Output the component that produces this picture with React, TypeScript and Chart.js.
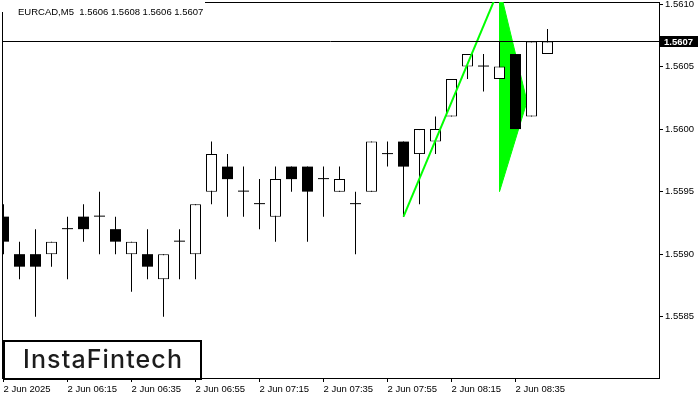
import React, { useEffect, useRef } from "react";
import { Chart, registerables } from "chart.js";

Chart.register(...registerables);

// ---- data ----
const symbolTitle = "EURCAD,M5";
const opens = [1.5593, 1.559, 1.559, 1.559, 1.5592, 1.5593, 1.5593, 1.5592, 1.559, 1.559, 1.5588, 1.5591, 1.559, 1.5595, 1.5597, 1.5595, 1.5594, 1.5593, 1.5597, 1.5597, 1.5596, 1.5595, 1.5594, 1.5595, 1.5598, 1.5599, 1.5598, 1.5599, 1.5601, 1.5605, 1.5605, 1.5604, 1.5606, 1.5601, 1.5606];
const highs = [1.5594, 1.5591, 1.5592, 1.5591, 1.5593, 1.5594, 1.5595, 1.5593, 1.5591, 1.5592, 1.559, 1.5592, 1.5594, 1.5599, 1.5598, 1.5597, 1.5596, 1.5597, 1.5597, 1.5597, 1.5597, 1.5597, 1.5595, 1.5599, 1.5599, 1.5599, 1.56, 1.5601, 1.5604, 1.5606, 1.5606, 1.5607, 1.5606, 1.5607, 1.5608];
const lows = [1.559, 1.5588, 1.5585, 1.5589, 1.5588, 1.5591, 1.559, 1.559, 1.5587, 1.5588, 1.5585, 1.5588, 1.5588, 1.5594, 1.5593, 1.5593, 1.5592, 1.5591, 1.5595, 1.5591, 1.5593, 1.5595, 1.559, 1.5595, 1.5597, 1.5593, 1.5594, 1.5598, 1.5601, 1.5604, 1.5603, 1.5604, 1.56, 1.5601, 1.5606];
const closes = [1.5591, 1.5589, 1.5589, 1.5591, 1.5592, 1.5592, 1.5593, 1.5591, 1.5591, 1.5589, 1.559, 1.5591, 1.5594, 1.5598, 1.5596, 1.5595, 1.5594, 1.5596, 1.5596, 1.5595, 1.5596, 1.5596, 1.5594, 1.5599, 1.5598, 1.5597, 1.56, 1.56, 1.5604, 1.5606, 1.5605, 1.5605, 1.56, 1.5607, 1.5607];

const xTickIndex = [0, 4, 8, 12, 16, 20, 24, 28, 32];
const xTickLabels = ["2 Jun 2025", "2 Jun 06:15", "2 Jun 06:35", "2 Jun 06:55", "2 Jun 07:15", "2 Jun 07:35", "2 Jun 07:55", "2 Jun 08:15", "2 Jun 08:35"];
const yTickValues = [1.5585, 1.559, 1.5595, 1.56, 1.5605, 1.561];

// flagpole and pennant (bar index, price)
const flagX = [25, 31];
const flagY = [1.5593, 1.56113];
const pennantX = [31, 32.72, 31, 31];
const pennantY = [1.56113, 1.56022, 1.5595, 1.56113];

const logoText = "InstaFintech";

// ---- layout constants ----
const X_MIN = -0.09375;
const X_MAX = 40.96875;
const Y_MIN = 1.55801;
const Y_MAX = 1.561016;
const FONT = "'Liberation Sans', Arial, sans-serif";
const GREEN = "#00ff00";

const decorPlugin = {
  id: "decor",
  beforeDatasetsDraw(chart: any) {
    const { ctx, chartArea: a } = chart;
    ctx.save();
    ctx.strokeStyle = "#000";
    ctx.lineWidth = 1;
    ctx.strokeRect(a.left + 0.5, a.top + 0.5, a.right - a.left, a.bottom - a.top);
    ctx.restore();
  },
  afterDatasetsDraw(chart: any) {
    const { ctx, chartArea: a } = chart;
    const yScale = chart.scales.y;
    const last = closes[closes.length - 1];
    const py = Math.floor(yScale.getPixelForValue(last)) + 0.5;
    ctx.save();
    // current price line
    ctx.strokeStyle = "#000";
    ctx.lineWidth = 1;
    ctx.beginPath();
    ctx.moveTo(a.left, py);
    ctx.lineTo(a.right, py);
    ctx.stroke();
    // price label
    ctx.fillStyle = "#000";
    ctx.fillRect(a.right + 1, py - 5.5, 38, 11);
    ctx.fillStyle = "#fff";
    ctx.font = `bold 9.5px ${FONT}`;
    ctx.textBaseline = "middle";
    ctx.textAlign = "left";
    ctx.fillText(last.toFixed(4), a.right + 5, py + 0.5);

    // title
    ctx.fillStyle = "#fff";
    ctx.fillRect(0, 0, 205, 12);
    ctx.fillStyle = "#000";
    ctx.font = `9.5px ${FONT}`;
    ctx.textBaseline = "alphabetic";
    const ohlc = [opens, highs, lows, closes].map((arr) => arr[arr.length - 1].toFixed(4)).join(" ");
    ctx.fillText(`${symbolTitle}  ${ohlc}`, 18, 15);

    // logo box
    ctx.fillStyle = "#fff";
    ctx.fillRect(4, 341, 197, 38);
    ctx.strokeStyle = "#000";
    ctx.lineWidth = 2;
    ctx.strokeRect(4, 341, 197, 38);
    ctx.fillStyle = "#1c1c1c";
    ctx.font = `500 25px Inter, 'Noto Sans', sans-serif`;
    const w = ctx.measureText(logoText).width;
    const sp = (159 - w) / (logoText.length - 1);
    (ctx as any).letterSpacing = `${sp.toFixed(2)}px`;
    ctx.fillText(logoText, 23, 368);
    ctx.restore();
  },
};

export default function App() {
  const ref = useRef<HTMLCanvasElement | null>(null);
  useEffect(() => {
    document.body.style.margin = "0";
    const idx = opens.map((_, i) => i);
    const wicks = idx.map((i) => ({ x: i, y: [lows[i], highs[i]] }));
    const bull = idx.filter((i) => closes[i] > opens[i]).map((i) => ({ x: i, y: [opens[i], closes[i]] }));
    const bear = idx.filter((i) => closes[i] < opens[i]).map((i) => ({ x: i, y: [closes[i], opens[i]] }));
    const doji = idx.filter((i) => closes[i] === opens[i]).map((i) => ({ x: i, y: [opens[i], opens[i]] }));

    const tickFont = { family: FONT, size: 9.5 };
    const chart = new Chart(ref.current as HTMLCanvasElement, {
      type: "bar",
      data: {
        datasets: [
          {
            type: "line",
            data: flagX.map((x, i) => ({ x, y: flagY[i] })),
            borderColor: GREEN,
            borderWidth: 2,
            pointRadius: 0,
            fill: false,
            tension: 0,
            clip: 0,
            order: 0,
          } as any,
          {
            type: "bar",
            data: bull,
            backgroundColor: "#fff",
            borderColor: "#000",
            borderWidth: 1,
            borderSkipped: false,
            barThickness: 11,
            grouped: false,
            inflateAmount: 0,
            clip: 0,
            order: 1,
          },
          {
            type: "bar",
            data: bear,
            backgroundColor: "#000",
            borderWidth: 0,
            barThickness: 11,
            grouped: false,
            inflateAmount: 0,
            clip: 0,
            order: 1,
          },
          {
            type: "bar",
            data: doji,
            backgroundColor: "#000",
            borderWidth: 0,
            barThickness: 11,
            minBarLength: 1,
            grouped: false,
            inflateAmount: 0,
            clip: 0,
            order: 1,
          },
          {
            type: "bar",
            data: wicks,
            backgroundColor: "#000",
            borderWidth: 0,
            barThickness: 1,
            grouped: false,
            inflateAmount: 0,
            clip: 0,
            order: 2,
          },
          {
            type: "line",
            data: pennantX.map((x, i) => ({ x, y: pennantY[i] })),
            borderColor: GREEN,
            backgroundColor: GREEN,
            borderWidth: 1,
            pointRadius: 0,
            fill: "shape",
            tension: 0,
            clip: 0,
            order: 3,
          } as any,
        ] as any,
      },
      options: {
        animation: false,
        responsive: false,
        devicePixelRatio: 1,
        events: [],
        layout: { padding: { left: 2, top: 2, right: 0, bottom: 0 } },
        plugins: { legend: { display: false }, tooltip: { enabled: false }, title: { display: false } },
        scales: {
          x: {
            type: "linear",
            position: "bottom",
            min: X_MIN,
            max: X_MAX,
            offset: false,
            border: { display: false },
            grid: { display: true, drawOnChartArea: false, drawTicks: true, tickLength: 4, color: "#000", offset: false },
            ticks: {
              autoSkip: false,
              maxRotation: 0,
              minRotation: 0,
              align: "start",
              padding: 2,
              color: "#000",
              font: tickFont,
              callback: (v: any) => {
                const k = xTickIndex.indexOf(Number(v));
                return k >= 0 ? xTickLabels[k] : "";
              },
            },
            afterBuildTicks: (s: any) => {
              s.ticks = xTickIndex.map((v) => ({ value: v }));
            },
            afterFit: (s: any) => {
              s.height = 22;
              s.paddingLeft = 0;
              s.paddingRight = 0;
            },
          },
          y: {
            type: "linear",
            position: "right",
            min: Y_MIN,
            max: Y_MAX,
            border: { display: false },
            grid: { display: true, drawOnChartArea: false, drawTicks: true, tickLength: 4, color: "#000" },
            ticks: {
              padding: 2,
              color: "#000",
              font: tickFont,
              callback: (v: any) => Number(v).toFixed(4),
            },
            afterBuildTicks: (s: any) => {
              s.ticks = yTickValues.map((v) => ({ value: v }));
            },
            afterFit: (s: any) => {
              s.width = 41;
              s.paddingTop = 0;
              s.paddingBottom = 0;
            },
          },
        },
      } as any,
      plugins: [decorPlugin],
    });
    return () => chart.destroy();
  }, []);

  return (
    <div style={{ width: 700, height: 400, background: "#fff" }}>
      <canvas ref={ref} width={700} height={400} style={{ display: "block" }} />
    </div>
  );
}
